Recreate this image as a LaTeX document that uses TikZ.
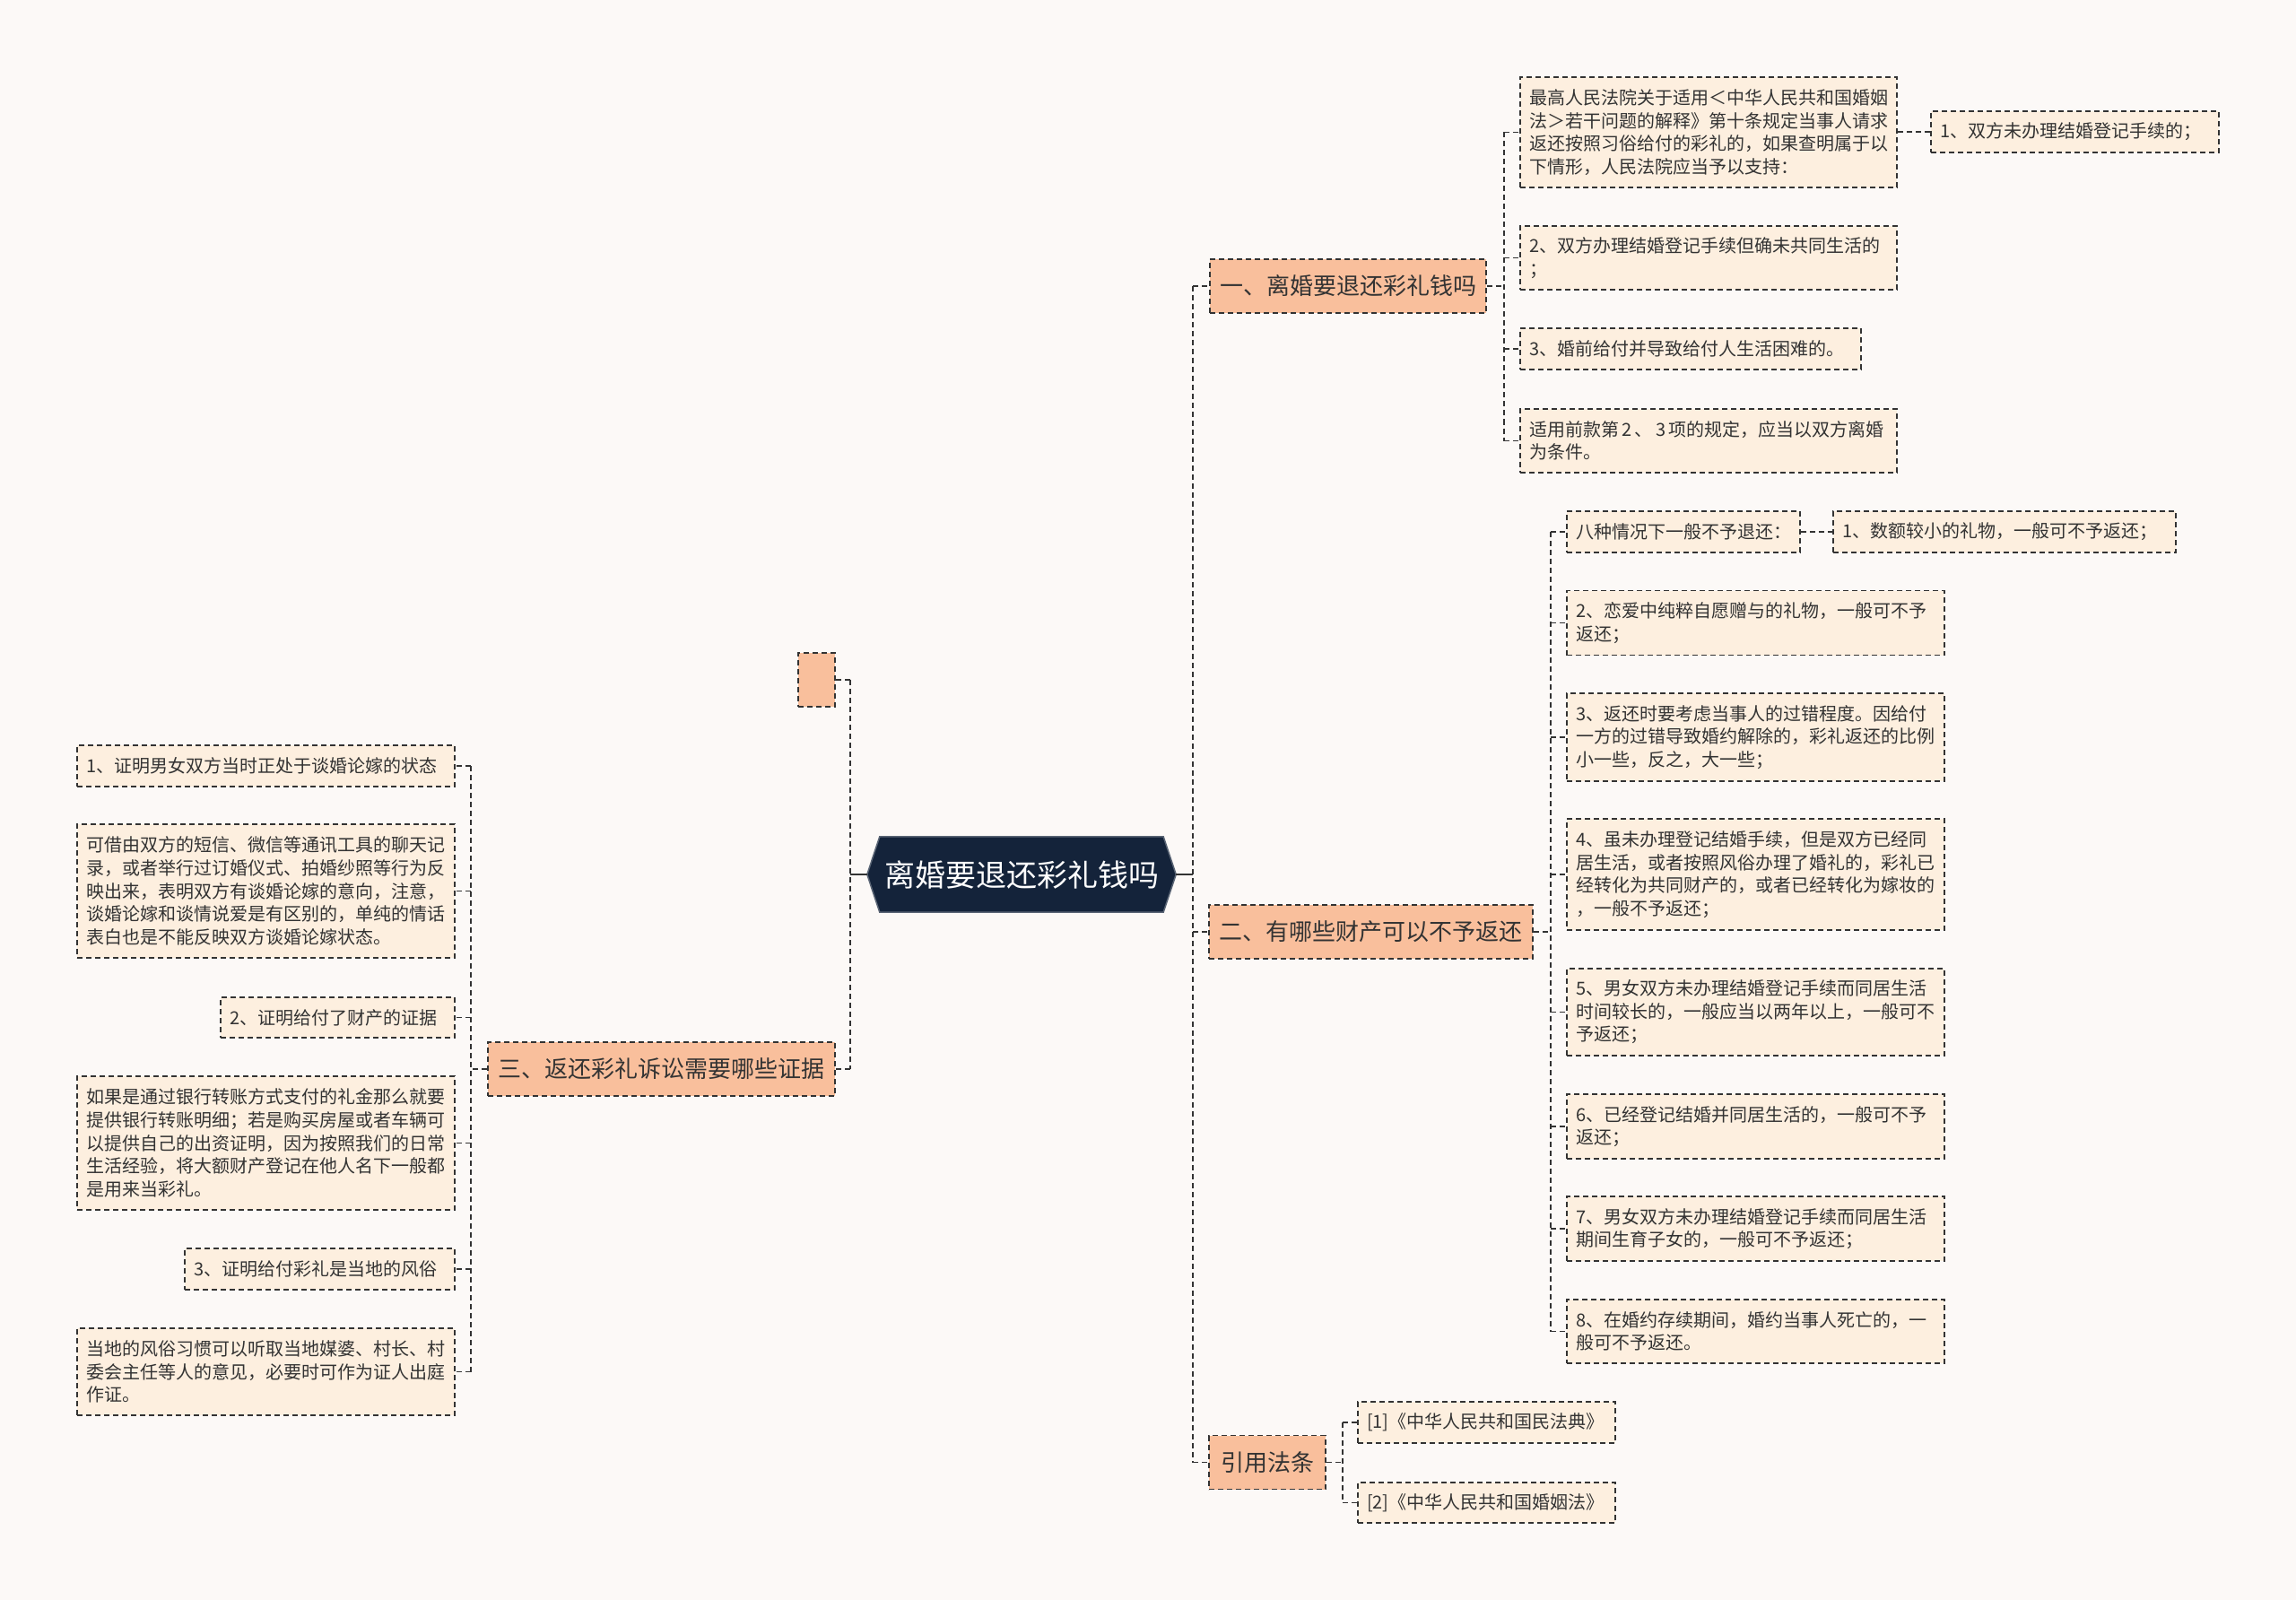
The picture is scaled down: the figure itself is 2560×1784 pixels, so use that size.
\documentclass[tikz,border=0pt]{standalone}
\usepackage{fontspec}
\usetikzlibrary{backgrounds}
\newfontfamily\cjk{Noto Sans CJK SC}
\definecolor{bgcol}{HTML}{FCF9F7}
\definecolor{leaffill}{HTML}{FDEFDF}
\definecolor{branchfill}{HTML}{F9BF9C}
\definecolor{rootfill}{HTML}{14233A}
\definecolor{linecol}{HTML}{333333}

\begin{document}
\begin{tikzpicture}[x=1pt, y=-1pt,
    link/.style={draw=linecol, line width=1.8pt, dash pattern=on 6pt off 4pt},
    stub/.style={draw=linecol, line width=2.2pt},
    branch/.style={rectangle, draw=linecol, line width=1.8pt, dash pattern=on 6pt off 4pt, fill=branchfill, inner sep=0pt, minimum height=60pt, font=\cjk\fontsize{26}{32}\selectfont, text=black!80},
    leaf/.style 2 args={rectangle, draw=linecol, line width=1.6pt, dash pattern=on 6pt off 4pt, fill=leaffill, inner xsep=10pt, inner ysep=0pt, text width=#1, minimum height=#2, align=left, font=\cjk\fontsize{20}{25.6}\selectfont, text=black!80}]
    \useasboundingbox (0,0) rectangle (2560,1784);

    % centre topic
    \node[font=\cjk\fontsize{34}{40}\selectfont, text=white, minimum width=344pt, minimum height=84pt, inner sep=0pt] (root) at (1139,975) {离婚要退还彩礼钱吗};

    % main branches
    \node[branch, minimum width=308pt] (b1) at (1503,319) {一、离婚要退还彩礼钱吗};
    \node[branch, minimum width=361pt] (b2) at (1528.5,1039) {二、有哪些财产可以不予返还};
    \node[branch, minimum width=130pt] (b4) at (1413,1630.5) {引用法条};
    \node[branch, minimum width=387pt] (b3) at (737.5,1192) {三、返还彩礼诉讼需要哪些证据};
    \node[branch, minimum width=41pt] (b0) at (910.5,758) {};

    % branch 1
    \node[leaf={400pt}{123pt}] (c1) at (1905,147.5) {最高人民法院关于适用＜中华人民共和国婚姻\\法＞若干问题的解释》第十条规定当事人请求\\返还按照习俗给付的彩礼的，如果查明属于以\\下情形，人民法院应当予以支持：};
    \node[leaf={301pt}{46pt}] (g1) at (2313.5,147) {1、双方未办理结婚登记手续的；};
    \node[leaf={400pt}{71pt}] (c2) at (1905,287.5) {2、双方办理结婚登记手续但确未共同生活的\\；};
    \node[leaf={360pt}{46pt}] (c3) at (1885,389) {3、婚前给付并导致给付人生活困难的。};
    \node[leaf={400pt}{71pt}] (c4) at (1905,491.5) {适用前款第\,2\,、\,3\,项的规定，应当以双方离婚\\为条件。};

    % branch 2
    \node[leaf={240pt}{46pt}] (d0) at (1877,593) {八种情况下一般不予退还：};
    \node[leaf={362pt}{46pt}] (g2) at (2235,593) {1、数额较小的礼物，一般可不予返还；};
    \node[leaf={401pt}{72pt}] (d2) at (1957.5,694.5) {2、恋爱中纯粹自愿赠与的礼物，一般可不予\\返还；};
    \node[leaf={401pt}{98pt}] (d3) at (1957.5,822) {3、返还时要考虑当事人的过错程度。因给付\\一方的过错导致婚约解除的，彩礼返还的比例\\小一些，反之，大一些；};
    \node[leaf={401pt}{124pt}] (d4) at (1957.5,975) {4、虽未办理登记结婚手续，但是双方已经同\\居生活，或者按照风俗办理了婚礼的，彩礼已\\经转化为共同财产的，或者已经转化为嫁妆的\\，一般不予返还；};
    \node[leaf={401pt}{97pt}] (d5) at (1957.5,1128.5) {5、男女双方未办理结婚登记手续而同居生活\\时间较长的，一般应当以两年以上，一般可不\\予返还；};
    \node[leaf={401pt}{72pt}] (d6) at (1957.5,1256) {6、已经登记结婚并同居生活的，一般可不予\\返还；};
    \node[leaf={401pt}{72pt}] (d7) at (1957.5,1370) {7、男女双方未办理结婚登记手续而同居生活\\期间生育子女的，一般可不予返还；};
    \node[leaf={401pt}{71pt}] (d8) at (1957.5,1484.5) {8、在婚约存续期间，婚约当事人死亡的，一\\般可不予返还。};

    % cited laws
    \node[leaf={267pt}{46pt}] (r1) at (1657.5,1586) {[1]《中华人民共和国民法典》};
    \node[leaf={267pt}{45pt}] (r2) at (1657.5,1675.5) {[2]《中华人民共和国婚姻法》};

    % branch 3
    \node[leaf={401pt}{46pt}] (l1) at (296.5,854) {1、证明男女双方当时正处于谈婚论嫁的状态};
    \node[leaf={401pt}{149pt}] (l1b) at (296.5,993.5) {可借由双方的短信、微信等通讯工具的聊天记\\录，或者举行过订婚仪式、拍婚纱照等行为反\\映出来，表明双方有谈婚论嫁的意向，注意，\\谈婚论嫁和谈情说爱是有区别的，单纯的情话\\表白也是不能反映双方谈婚论嫁状态。};
    \node[leaf={241pt}{45pt}] (l2) at (376.5,1134.5) {2、证明给付了财产的证据};
    \node[leaf={401pt}{149pt}] (l2b) at (296.5,1274.5) {如果是通过银行转账方式支付的礼金那么就要\\提供银行转账明细；若是购买房屋或者车辆可\\以提供自己的出资证明，因为按照我们的日常\\生活经验，将大额财产登记在他人名下一般都\\是用来当彩礼。};
    \node[leaf={281pt}{46pt}] (l3) at (356.5,1415) {3、证明给付彩礼是当地的风俗};
    \node[leaf={401pt}{97pt}] (l3b) at (296.5,1529.5) {当地的风俗习惯可以听取当地媒婆、村长、村\\委会主任等人的意见，必要时可作为证人出庭\\作证。};

    % trunks
    \coordinate (rt) at ([xshift=19pt]root.east);
    \coordinate (lt) at ([xshift=-19pt]root.west);
    \coordinate (t1) at ([xshift=19pt]b1.east);
    \coordinate (t2) at ([xshift=19pt]b2.east);
    \coordinate (t4) at ([xshift=18pt]b4.east);
    \coordinate (t3) at ([xshift=-18pt]b3.west);

    \draw[stub] (root.east) -- (rt);
    \draw[stub] (root.west) -- (lt);
    \draw[link] (rt |- b1.west) -- (rt |- b4.west);
    \draw[link] (rt |- b1.west) -- (b1.west);
    \draw[link] (rt |- b2.west) -- (b2.west);
    \draw[link] (rt |- b4.west) -- (b4.west);
    \draw[link] (lt |- b0.east) -- (lt |- b3.east);
    \draw[link] (lt |- b0.east) -- (b0.east);
    \draw[link] (lt |- b3.east) -- (b3.east);

    \draw[link] (b1.east) -- (t1);
    \draw[link] (t1 |- c1.west) -- (t1 |- c4.west);
    \foreach \n in {c1,c2,c3,c4}
        \draw[link] (t1 |- \n.west) -- (\n.west);
    \draw[link] (c1.east |- g1.west) -- (g1.west);

    \draw[link] (b2.east) -- (t2);
    \draw[link] (t2 |- d0.west) -- (t2 |- d8.west);
    \foreach \n in {d0,d2,d3,d4,d5,d6,d7,d8}
        \draw[link] (t2 |- \n.west) -- (\n.west);
    \draw[link] (d0.east) -- (g2.west);

    \draw[link] (b4.east) -- (t4);
    \draw[link] (t4 |- r1.west) -- (t4 |- r2.west);
    \draw[link] (t4 |- r1.west) -- (r1.west);
    \draw[link] (t4 |- r2.west) -- (r2.west);

    \draw[link] (b3.west) -- (t3);
    \draw[link] (t3 |- l1.east) -- (t3 |- l3b.east);
    \foreach \n in {l1,l1b,l2,l2b,l3,l3b}
        \draw[link] (t3 |- \n.east) -- (\n.east);

    \begin{scope}[on background layer]
        \fill[bgcol] (0,0) rectangle (2560,1784);
        \filldraw[fill=rootfill, draw=rootfill!70!white, line width=1.5pt] (root.west) -- ([xshift=14pt]root.north west) -- ([xshift=-14pt]root.north east) -- (root.east) -- ([xshift=-14pt]root.south east) -- ([xshift=14pt]root.south west) -- cycle;
    \end{scope}
\end{tikzpicture}
\end{document}
